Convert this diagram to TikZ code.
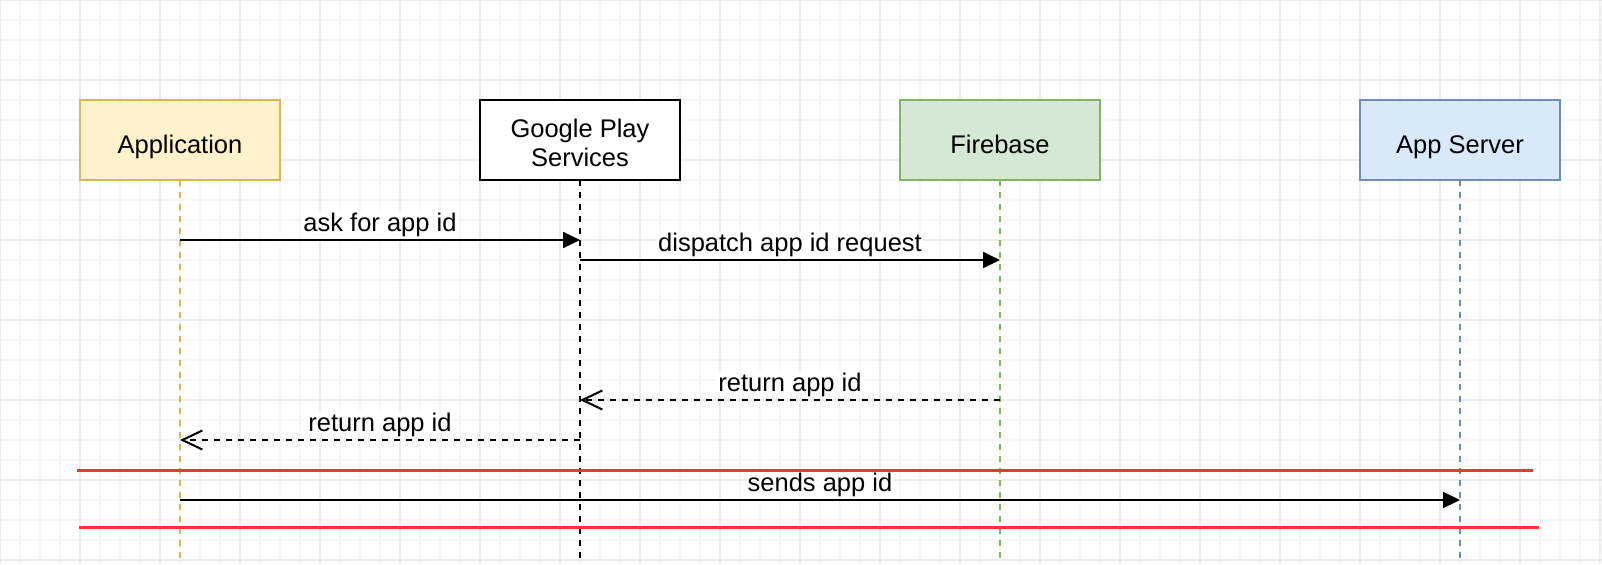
\documentclass[tikz,border=0pt]{standalone}
\usepackage{fontspec}
\setmainfont{Liberation Sans}
\usetikzlibrary{positioning,arrows.meta}

\definecolor{appfill}{HTML}{FFF2CC}
\definecolor{appline}{HTML}{D6B656}
\definecolor{fbfill}{HTML}{D5E8D4}
\definecolor{fbline}{HTML}{82B366}
\definecolor{srvfill}{HTML}{DAE8FC}
\definecolor{srvline}{HTML}{6C8EBF}
\definecolor{sepred}{HTML}{FF3333}
\definecolor{gridminor}{HTML}{F6F6F6}
\definecolor{gridmajor}{HTML}{EBEBEB}

\begin{document}
\begin{tikzpicture}[x=0.5pt,y=-0.5pt,
	actor/.style={draw, line width=1pt, minimum width=100pt, minimum height=40pt, inner sep=0pt, outer sep=0pt, align=center, text height=13pt, text depth=0pt, font=\fontsize{12.75}{14.35}\selectfont},
	life/.style={line width=1pt, dash pattern=on 3pt off 3pt},
	msg/.style={line width=1pt, -{Triangle[length=8.5pt,width=8pt]}},
	reply/.style={line width=1pt, dash pattern=on 3pt off 3pt, -{Straight Barb[length=10pt,width=9.5pt]}},
	lbl/.style={anchor=base, yshift=4.25pt, fill=white, inner sep=0.5pt, font=\fontsize{12.75}{14.35}\selectfont},
	sep/.style={sepred, line width=1.5pt}]
		\useasboundingbox (0,0) rectangle (1602,564);
		\fill[white] (0,0) rectangle (1602,564);
		% grid
		\foreach \x in {0,20,...,1600} \draw[gridminor, line width=0.75pt] (\x,0) -- (\x,564);
		\foreach \y in {0,20,...,560} \draw[gridminor, line width=0.75pt] (0,\y) -- (1602,\y);
		\foreach \x in {0,80,...,1600} \draw[gridmajor, line width=0.75pt] (\x,0) -- (\x,564);
		\foreach \y in {0,80,...,560} \draw[gridmajor, line width=0.75pt] (0,\y) -- (1602,\y);
		% actors
		\node[actor, fill=appfill, draw=appline] (app) at (180,140) {Application};
		\node[actor, fill=white, text height=26pt, right = 100pt of app] (gps) {Google Play\\Services};
		\node[actor, fill=fbfill, draw=fbline, right = 110pt of gps] (fb) {Firebase};
		\node[actor, fill=srvfill, draw=srvline, right = 130pt of fb] (srv) {App Server};
		% rows
		\coordinate (bot) at (0,560);
		\coordinate (ask) at (0,240);
		\coordinate (disp) at (0,260);
		\coordinate (ret1) at (0,400);
		\coordinate (ret2) at (0,440);
		\coordinate (send) at (0,500);
		% lifelines
		\draw[life, appline] (app) -- (app |- bot);
		\draw[life, black] (gps) -- (gps |- bot);
		\draw[life, fbline] (fb) -- (fb |- bot);
		\draw[life, srvline] (srv) -- (srv |- bot);
		% messages
		\draw[msg] (app |- ask) -- node[lbl] {ask for app id} (gps |- ask);
		\draw[msg] (gps |- disp) -- node[lbl] {dispatch app id request} (fb |- disp);
		\draw[reply] (fb |- ret1) -- node[lbl] {return app id} (gps |- ret1);
		\draw[reply] (gps |- ret2) -- node[lbl] {return app id} (app |- ret2);
		\draw[sep] (77,470) -- (1533,470);
		\draw[sep] (79,527) -- (1539,527);
		\draw[msg] (app |- send) -- node[lbl] {sends app id} (srv |- send);
\end{tikzpicture}
\end{document}
